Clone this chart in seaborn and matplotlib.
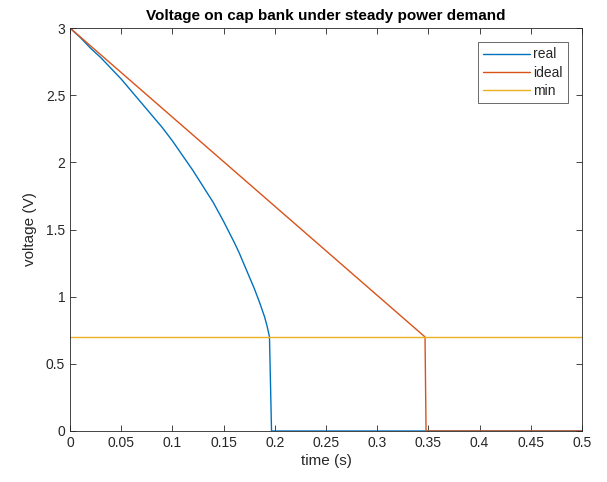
import numpy as np
import pandas as pd
import matplotlib
matplotlib.use("Agg")
import matplotlib.pyplot as plt
import seaborn as sns

# values
real_t = [0, 0.01, 0.02, 0.03, 0.04, 0.05, 0.06, 0.07, 0.08, 0.09, 0.10, 0.11, 0.12,
          0.13, 0.14, 0.15, 0.16, 0.165, 0.17, 0.175, 0.18, 0.185, 0.19, 0.1925,
          0.1948, 0.1968, 0.5]
real_v = [3.0, 2.93, 2.85, 2.78, 2.70, 2.62, 2.53, 2.44, 2.35, 2.26, 2.16, 2.05, 1.94,
          1.82, 1.70, 1.56, 1.41, 1.33, 1.24, 1.15, 1.06, 0.96, 0.85, 0.78,
          0.70, 0.0, 0.0]

ideal_t = [0, 0.3467, 0.3477, 0.5]
ideal_v = [3.0, 0.70, 0.0, 0.0]

min_t = [0, 0.5]
min_v = [0.7, 0.7]

colors = ["#0072BD", "#D95319", "#EDB120"]
labels = ["real", "ideal", "min"]

sns.set_style("white")
plt.rcParams['font.family'] = ['Liberation Sans', 'DejaVu Sans']

fig = plt.figure(figsize=(6.07, 4.82), dpi=100)
ax = fig.add_axes([70 / 607, 1 - 431 / 482, 512 / 607, 403 / 482])

series = [(real_t, real_v), (ideal_t, ideal_v), (min_t, min_v)]
for (t, v), c, lab in zip(series, colors, labels):
    df = pd.DataFrame({"time": t, "voltage": v})
    sns.lineplot(data=df, x="time", y="voltage", ax=ax, color=c, label=lab,
                 sort=False, estimator=None, linewidth=1.0)

ax.set_xlim(0, 0.5)
ax.set_ylim(0, 3)
ax.set_xticks(np.arange(0, 0.51, 0.05))
ax.set_xticklabels(["0", "0.05", "0.1", "0.15", "0.2", "0.25", "0.3", "0.35", "0.4", "0.45", "0.5"])
ax.set_yticks(np.arange(0, 3.01, 0.5))
ax.set_yticklabels(["0", "0.5", "1", "1.5", "2", "2.5", "3"])

ax.tick_params(direction="in", length=4, width=0.6, colors="#262626", labelsize=10,
               top=True, right=True, bottom=True, left=True)
for s in ax.spines.values():
    s.set_color("#262626")
    s.set_linewidth(0.6)
    s.set_visible(True)

ax.set_xlabel("time (s)", fontsize=11, color="#262626", labelpad=3)
ax.set_ylabel("voltage (V)", fontsize=11, color="#262626", labelpad=6)
ax.set_title("Voltage on cap bank under steady power demand", fontsize=11,
             fontweight="bold", color="black", pad=6)

leg = ax.legend(loc="upper right", fontsize=10, frameon=True, fancybox=False,
                edgecolor="#262626", handlelength=3.4, handletextpad=0.2,
                borderpad=0.4, labelspacing=0.3, borderaxespad=1.0)
leg.get_frame().set_linewidth(0.6)

fig.savefig("out.png", dpi=100)
